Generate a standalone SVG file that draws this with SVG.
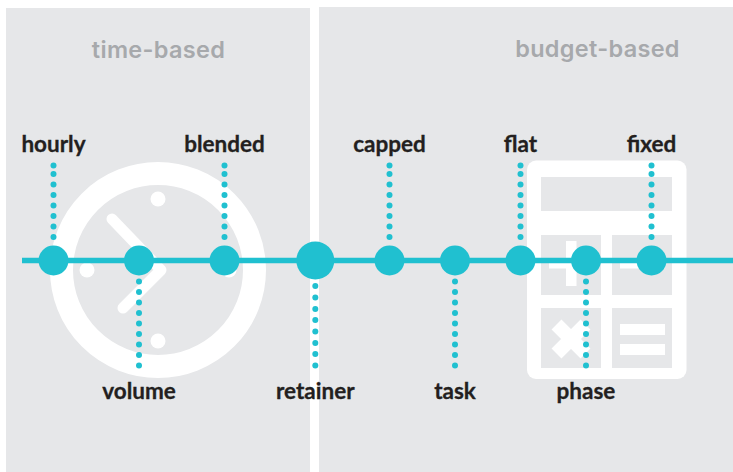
<svg xmlns="http://www.w3.org/2000/svg" width="733" height="472" viewBox="0 0 733 472">
<style>
.panel{fill:#e6e7e9}
.icon{fill:#fff}
.cut{fill:#e6e7e9}
.node{fill:#20c0d0}
.dot{fill:#20c0d0}
text{font-family:"Lato","Liberation Sans",sans-serif;font-weight:700}
.title{font-family:"Inter","Liberation Sans",sans-serif;font-weight:600;font-size:23.5px;fill:#a7a9ac;text-anchor:middle;letter-spacing:.3px}
.label{font-size:22.5px;fill:#231f20;text-anchor:middle;stroke:#231f20;stroke-width:.3px}
</style>
<defs>
<g id="up"><circle class="dot" cx="0" cy="-95" r="3"/><circle class="dot" cx="0" cy="-86.5" r="3"/><circle class="dot" cx="0" cy="-76" r="3"/><circle class="dot" cx="0" cy="-65.5" r="3"/><circle class="dot" cx="0" cy="-55" r="3"/><circle class="dot" cx="0" cy="-44.5" r="3"/><circle class="dot" cx="0" cy="-34" r="3"/><circle class="dot" cx="0" cy="-23.5" r="3"/></g>
<g id="down"><circle class="dot" cx="0" cy="21" r="3"/><circle class="dot" cx="0" cy="31.5" r="3"/><circle class="dot" cx="0" cy="42" r="3"/><circle class="dot" cx="0" cy="52.5" r="3"/><circle class="dot" cx="0" cy="63" r="3"/><circle class="dot" cx="0" cy="73.5" r="3"/><circle class="dot" cx="0" cy="84" r="3"/><circle class="dot" cx="0" cy="94.5" r="3"/><circle class="dot" cx="0" cy="105" r="3"/></g>
<g id="down8"><circle class="dot" cx="0" cy="25.5" r="3"/><circle class="dot" cx="0" cy="37" r="3"/><circle class="dot" cx="0" cy="48.500" r="3"/><circle class="dot" cx="0" cy="59.500" r="3"/><circle class="dot" cx="0" cy="71" r="3"/><circle class="dot" cx="0" cy="82.500" r="3"/><circle class="dot" cx="0" cy="93.500" r="3"/><circle class="dot" cx="0" cy="105" r="3"/></g>
</defs>
<rect width="733" height="472" fill="#fff"/>
<rect class="panel" x="6" y="8" width="304" height="464"/>
<rect class="panel" x="319" y="7" width="414" height="465"/>
<text class="title" x="158.500" y="58">time-based</text>
<text class="title" x="597.500" y="57">budget-based</text>
<g id="clock">
<circle cx="158" cy="270" r="96.5" fill="none" stroke="#fff" stroke-width="23"/>
<circle class="icon" cx="158" cy="199" r="7.5"/>
<circle class="icon" cx="87" cy="270" r="7.5"/>
<circle class="icon" cx="158" cy="341" r="7.5"/>
<circle class="icon" cx="229" cy="270" r="7.5"/>
<path d="M112 219 L161 270 L123 308" fill="none" stroke="#fff" stroke-width="11" stroke-linecap="round" stroke-linejoin="round"/>
</g>
<g id="calculator">
<rect class="icon" x="527" y="160.500" width="159.500" height="218.500" rx="9"/>
<rect class="cut" x="541" y="177" width="131" height="34"/>
<rect class="cut" x="541" y="235" width="60" height="60"/>
<rect class="cut" x="612" y="235" width="60" height="60"/>
<rect class="cut" x="541" y="308" width="60" height="60"/>
<rect class="cut" x="612" y="308" width="60" height="60"/>
<rect class="icon" x="566" y="241" width="10.500" height="45"/>
<rect class="icon" x="549" y="258" width="45" height="10.500"/>
<rect class="icon" x="620" y="258" width="45" height="10.500"/>
<rect class="icon" x="620" y="324" width="45" height="11"/>
<rect class="icon" x="620" y="344" width="45" height="11"/>
<path d="M556.500 324.500 L585.500 353.500 M585.500 324.500 L556.500 353.500" fill="none" stroke="#fff" stroke-width="14"/>
</g>
<g id="connectors">
<rect class="node" x="22" y="257.750" width="711" height="5.500"/>
<use href="#up" x="53.500" y="260.500"/>
<use href="#down" x="139" y="260.500"/>
<use href="#up" x="224.500" y="260.500"/>
<use href="#down8" x="315.300" y="260.500"/>
<use href="#up" x="389.500" y="260.500"/>
<use href="#down" x="455" y="260.500"/>
<use href="#up" x="520.500" y="260.500"/>
<use href="#down" x="586" y="260.500"/>
<use href="#up" x="651.500" y="260.500"/>
</g>
<g id="hourly"><circle class="node" cx="53.500" cy="260.500" r="15"/><text class="label" x="53.500" y="152">hourly</text></g>
<g id="volume"><circle class="node" cx="139" cy="260.500" r="15"/><text class="label" x="139" y="399">volume</text></g>
<g id="blended"><circle class="node" cx="224.500" cy="260.500" r="15"/><text class="label" x="224.500" y="152">blended</text></g>
<g id="retainer"><circle class="node" cx="315.300" cy="260.500" r="19"/><text class="label" x="315.300" y="399">retainer</text></g>
<g id="capped"><circle class="node" cx="389.500" cy="260.500" r="15"/><text class="label" x="389.500" y="152">capped</text></g>
<g id="task"><circle class="node" cx="455" cy="260.500" r="15"/><text class="label" x="455" y="399">task</text></g>
<g id="flat"><circle class="node" cx="520.500" cy="260.500" r="15"/><text class="label" x="520.500" y="152">flat</text></g>
<g id="phase"><circle class="node" cx="586" cy="260.500" r="15"/><text class="label" x="586" y="399">phase</text></g>
<g id="fixed"><circle class="node" cx="651.500" cy="260.500" r="15"/><text class="label" x="651.500" y="152">fixed</text></g>
</svg>
